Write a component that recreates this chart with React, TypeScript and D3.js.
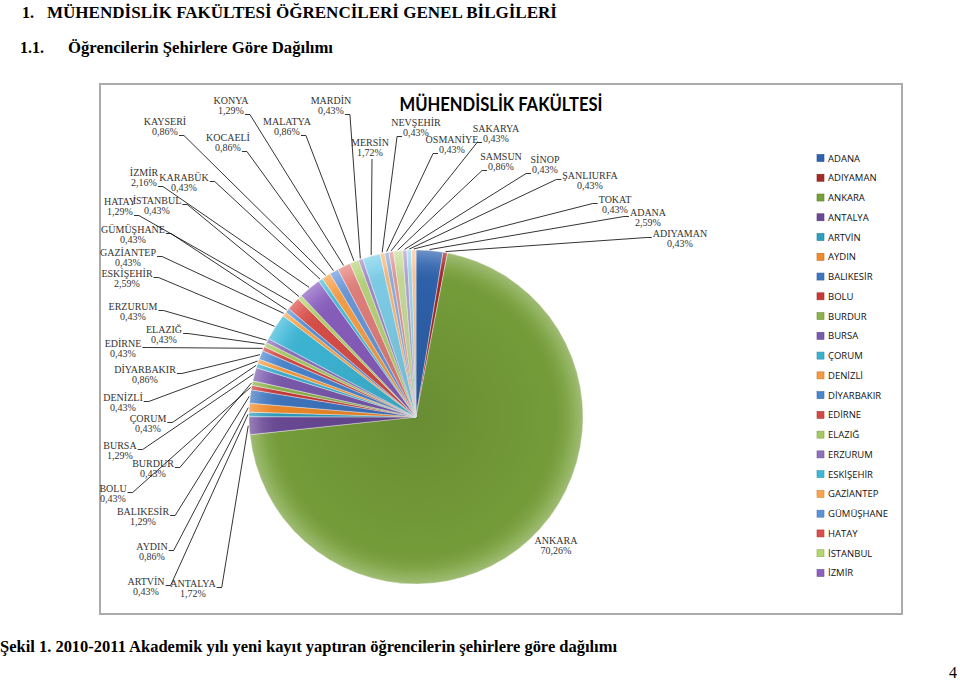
import React, { useEffect, useRef } from 'react';
import * as d3 from 'd3';

const cities = [
  'ADANA', 'ADIYAMAN', 'ANKARA', 'ANTALYA', 'ARTVİN', 'AYDIN', 'BALIKESİR', 'BOLU', 'BURDUR', 'BURSA',
  'ÇORUM', 'DENİZLİ', 'DİYARBAKIR', 'EDİRNE', 'ELAZIĞ', 'ERZURUM', 'ESKİŞEHİR', 'GAZİANTEP', 'GÜMÜŞHANE', 'HATAY',
  'İSTANBUL', 'İZMİR', 'KARABÜK', 'KAYSERİ', 'KOCAELİ', 'KONYA', 'MALATYA', 'MARDİN', 'MERSİN', 'NEVŞEHİR',
  'OSMANİYE', 'SAKARYA', 'SAMSUN', 'SİNOP', 'ŞANLIURFA', 'TOKAT',
];

const shares = [
  2.59, 0.43, 70.26, 1.72, 0.43, 0.86, 1.29, 0.43, 0.43, 1.29,
  0.43, 0.43, 0.86, 0.43, 0.43, 0.43, 2.59, 0.43, 0.43, 1.29,
  0.43, 2.16, 0.43, 0.86, 0.86, 1.29, 0.86, 0.43, 1.72, 0.43,
  0.43, 0.43, 0.86, 0.43, 0.43, 0.43,
];

const sliceColors = [
  '#2F63AE', '#A52A2A', '#77A03A', '#6A4A96', '#2E9EBF', '#F08A2A', '#3F76C0', '#C83A3A', '#8DB24A', '#7A5AAE',
  '#3BB0CF', '#F59A40', '#4A86CF', '#D24A46', '#A6C860', '#8E70BC', '#3EB8D8', '#F8A54E', '#5C93D6', '#DA4F4A',
  '#B3D56C', '#8A5FBF', '#4CC0DA', '#F8A04A', '#6A9ADB', '#E3807C', '#B8D57C', '#A08CC8', '#7FD0EA', '#F9B97A',
  '#8FB0DF', '#E49A98', '#C8DE9A', '#B4A6D4', '#9ED9EC', '#FAC89E',
];

const legendCount = 22;

// label layout: [name centre x, name centre y, leader attach mode]
const labelLayout: [number, number, string][] = [
  [648, 212, 'nl'], [680, 233, 'nl'], [556, 540, 'n'], [193, 583, 'nr'], [146, 581, 'nr'],
  [152, 546, 'nr'], [143, 511, 'nr'], [113, 488, 'nr'], [153, 463, 'nr'], [120, 445, 'nr'],
  [148, 418, 'nr'], [123, 397, 'nr'], [145, 369, 'nr'], [123, 343, 'nr'], [164, 329, 'nr'],
  [133, 306, 'nr'], [127, 273, 'nr'], [128, 252, 'nr'], [133, 229, 'nr'], [120, 201, 'vr'],
  [157, 200, 'nr'], [144, 172, 'vr'], [184, 177, 'nr'], [165, 121, 'vr'], [228, 137, 'vr'],
  [231, 100, 'vr'], [287, 121, 'vr'], [331, 100, 'vr'], [370, 142, 'b'], [416, 122, 'vl'],
  [452, 139, 'vl'], [496, 128, 'vl'], [501, 156, 'vl'], [545, 159, 'vl'], [590, 175, 'nl'],
  [615, 199, 'nl'],
];

const chartTitle = 'MÜHENDİSLİK FAKÜLTESİ';
const heading1 = 'MÜHENDİSLİK FAKÜLTESİ ÖĞRENCİLERİ GENEL BİLGİLERİ';
const heading2 = 'Öğrencilerin Şehirlere Göre Dağılımı';
const caption = 'Şekil 1. 2010-2011 Akademik yılı yeni kayıt yaptıran öğrencilerin şehirlere göre dağılımı';

const fmt = (v: number) => v.toFixed(2).replace('.', ',') + '%';

export default function App() {
  const ref = useRef<SVGSVGElement>(null);

  useEffect(() => {
    const svg = d3.select(ref.current);
    svg.selectAll('*').remove();
    const serif = "'Liberation Serif', 'Times New Roman', serif";

    // headings
    svg.append('text').attr('x', 22).attr('y', 18).attr('font-family', serif).attr('font-weight', 'bold')
      .attr('font-size', 16).text('1.');
    svg.append('text').attr('x', 47).attr('y', 18).attr('font-family', serif).attr('font-weight', 'bold')
      .attr('font-size', 16).attr('textLength', 510).attr('lengthAdjust', 'spacingAndGlyphs').text(heading1);
    svg.append('text').attr('x', 20).attr('y', 53).attr('font-family', serif).attr('font-weight', 'bold')
      .attr('font-size', 16).text('1.1.');
    svg.append('text').attr('x', 68).attr('y', 53).attr('font-family', serif).attr('font-weight', 'bold')
      .attr('font-size', 16).attr('textLength', 265).attr('lengthAdjust', 'spacingAndGlyphs').text(heading2);
    svg.append('text').attr('x', 0).attr('y', 652).attr('font-family', serif).attr('font-weight', 'bold')
      .attr('font-size', 16).attr('textLength', 617).attr('lengthAdjust', 'spacingAndGlyphs').text(caption);
    svg.append('text').attr('x', 949).attr('y', 678).attr('font-family', serif)
      .attr('font-size', 16).text('4');

    // chart frame
    svg.append('rect').attr('x', 100).attr('y', 84).attr('width', 802).attr('height', 530)
      .attr('fill', '#fff').attr('stroke', '#ABABAB').attr('stroke-width', 2);

    svg.append('text').attr('x', 501).attr('y', 111).attr('text-anchor', 'middle')
      .attr('font-family', "Lato, 'Open Sans', sans-serif").attr('font-weight', 'bold').attr('font-size', 18)
      .attr('textLength', 203).attr('lengthAdjust', 'spacingAndGlyphs').attr('fill', '#000').text(chartTitle);

    const cx = 416, cy = 417, R = 167;
    const pie = d3.pie<number>().sort(null).value((d) => d);
    const arcs = pie(shares);
    const arc = d3.arc<d3.PieArcDatum<number>>().innerRadius(0).outerRadius(R);

    const defs = svg.append('defs');
    const rg = defs.append('radialGradient').attr('id', 'shade').attr('cx', cx).attr('cy', cy).attr('r', R)
      .attr('gradientUnits', 'userSpaceOnUse');
    rg.append('stop').attr('offset', '0').attr('stop-color', '#000').attr('stop-opacity', 0.12);
    rg.append('stop').attr('offset', '0.8').attr('stop-color', '#000').attr('stop-opacity', 0.03);
    rg.append('stop').attr('offset', '0.92').attr('stop-color', '#fff').attr('stop-opacity', 0.1);
    rg.append('stop').attr('offset', '1').attr('stop-color', '#fff').attr('stop-opacity', 0.3);

    const gPie = svg.append('g').attr('transform', `translate(${cx},${cy})`);
    gPie.selectAll('path.slice').data(arcs).join('path').attr('class', 'slice')
      .attr('d', arc as any).attr('fill', (_d, i) => sliceColors[i])
      .attr('stroke', '#fff').attr('stroke-opacity', 0.7).attr('stroke-width', 0.6);
    svg.append('circle').attr('cx', cx).attr('cy', cy).attr('r', R).attr('fill', 'url(#shade)')
      .attr('pointer-events', 'none');

    // labels + leaders
    const gLab = svg.append('g').attr('font-family', serif).attr('font-size', 10).attr('fill', '#333');
    arcs.forEach((a, i) => {
      const [lx, ly, mode] = labelLayout[i];
      const tName = gLab.append('text').attr('x', lx).attr('y', ly + 3.5).attr('text-anchor', 'middle').text(cities[i]);
      const tVal = gLab.append('text').attr('x', lx).attr('y', ly + 13.5).attr('text-anchor', 'middle').text(fmt(shares[i]));
      if (mode === 'n') return;
      const wN = (tName.node() as SVGTextElement).getComputedTextLength();
      const wV = (tVal.node() as SVGTextElement).getComputedTextLength();
      const mid = (a.startAngle + a.endAngle) / 2;
      const ex = cx + (R + 1) * Math.sin(mid);
      const ey = cy - (R + 1) * Math.cos(mid);
      let pts: [number, number][] = [];
      if (mode === 'nr') { const x0 = lx + wN / 2 + 1, y0 = ly + 4.5; pts = [[x0, y0], [x0 + 5, y0]]; }
      else if (mode === 'vr') { const x0 = lx + wV / 2 + 1, y0 = ly + 14.5; pts = [[x0, y0], [x0 + 5, y0]]; }
      else if (mode === 'nl') { const x0 = lx - wN / 2 - 1, y0 = ly + 4.5; pts = [[x0, y0], [x0 - 5, y0]]; }
      else if (mode === 'vl') { const x0 = lx - wV / 2 - 1, y0 = ly + 14.5; pts = [[x0, y0], [x0 - 5, y0]]; }
      else if (mode === 'b') { pts = [[lx + 2, ly + 17]]; }
      pts.push([ex, ey]);
      svg.append('path').attr('d', d3.line()(pts) as string).attr('fill', 'none')
        .attr('stroke', '#000').attr('stroke-width', 0.8);
    });

    // legend
    const gLeg = svg.append('g');
    const ly0 = 158, step = 19.76;
    cities.slice(0, legendCount).forEach((c, i) => {
      const y = ly0 + i * step;
      gLeg.append('rect').attr('x', 817).attr('y', y - 3.5).attr('width', 7).attr('height', 7)
        .attr('fill', sliceColors[i]).attr('stroke', d3.color(sliceColors[i])!.darker(0.6).toString()).attr('stroke-width', 0.6);
      gLeg.append('text').attr('x', 828).attr('y', y + 3.5).attr('font-family', "'Open Sans', sans-serif")
        .attr('font-size', 9.5).attr('fill', '#111').text(c);
    });
  }, []);

  return (
    <svg ref={ref} width={960} height={681}
      style={{ position: 'absolute', left: 0, top: 0, background: '#fff' }} />
  );
}
